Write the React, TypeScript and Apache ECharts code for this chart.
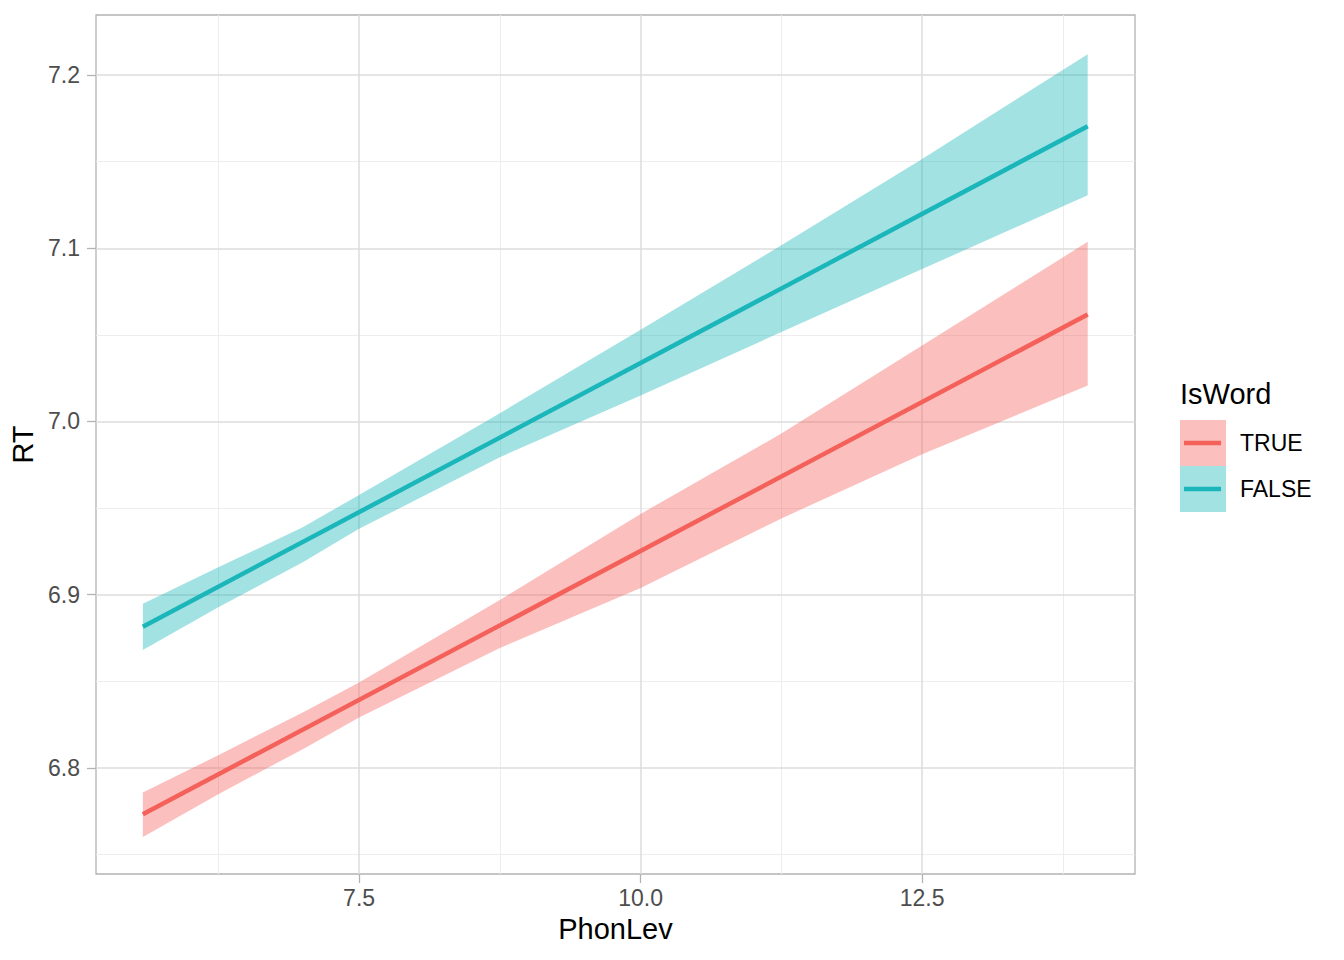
import React, { useEffect, useRef } from "react";
import * as echarts from "echarts";

// ---- data ----
const phonLevEnds = [5.58, 13.97];
const rtTrue = [6.7732, 7.0618];
const rtFalse = [6.8815, 7.1705];

const bandX = [5.58, 6.25, 7.0, 7.5, 8.75, 10.0, 11.25, 12.5, 13.97];
const trueLower = [6.7601, 6.7848, 6.8108, 6.8291, 6.8692, 6.9039, 6.944, 6.9811, 7.0208];
const trueUpper = [6.7857, 6.8073, 6.832, 6.8493, 6.8969, 6.9466, 6.993, 7.0439, 7.1037];
const falseLower = [6.868, 6.8927, 6.9187, 6.938, 6.9794, 7.015, 7.0516, 7.088, 7.1306];
const falseUpper = [6.8948, 6.9158, 6.9389, 6.9576, 7.0048, 7.053, 7.1017, 7.1515, 7.2121];

const xMajor = [7.5, 10, 12.5];
const xMinor = [6.25, 8.75, 11.25, 13.75];
const yMajor = [6.8, 6.9, 7.0, 7.1, 7.2];
const yMinor = [6.75, 6.85, 6.95, 7.05, 7.15];
const xRange = [5.164, 14.39];
const yRange = [6.7387, 7.2347];

const legendTitle = "IsWord";
const groupNames = ["TRUE", "FALSE"];
const groupColors = ["#F4605A", "#1AB6BA"];

const FONT = '"Liberation Sans", Arial, Helvetica, sans-serif';

function rgba(hex: string, a: number) {
  const n = parseInt(hex.slice(1), 16);
  return `rgba(${(n >> 16) & 255},${(n >> 8) & 255},${n & 255},${a})`;
}

export default function App() {
  const ref = useRef<HTMLDivElement>(null);

  useEffect(() => {
    if (!ref.current) return;
    const chart = echarts.init(ref.current, undefined, { renderer: "svg" });

    const groups = [
      { name: groupNames[0], color: groupColors[0], lower: trueLower, upper: trueUpper, line: rtTrue },
      { name: groupNames[1], color: groupColors[1], lower: falseLower, upper: falseUpper, line: rtFalse },
    ];

    const majorStyle = { color: "#DCDCDC", width: 1.5, type: "solid" };
    const minorStyle = { color: "#EDEDED", width: 1, type: "solid" };

    const gridLineData: any[] = [
      ...xMinor.map((v) => ({ xAxis: v, lineStyle: minorStyle })),
      ...yMinor.map((v) => ({ yAxis: v, lineStyle: minorStyle })),
      ...xMajor.map((v) => ({ xAxis: v, lineStyle: majorStyle })),
      ...yMajor.map((v) => ({ yAxis: v, lineStyle: majorStyle })),
    ];

    const series: any[] = [
      {
        type: "line",
        name: "grid",
        data: [],
        z: 1,
        silent: true,
        markLine: {
          silent: true,
          z: 1,
          symbol: ["none", "none"],
          label: { show: false },
          lineStyle: { type: "solid" },
          emphasis: { disabled: true },
          data: gridLineData,
        },
      },
    ];

    groups.forEach((g) => {
      series.push({
        type: "custom",
        name: g.name + " band",
        z: 2,
        silent: true,
        clip: true,
        data: [[bandX[0], g.lower[0]]],
        encode: { x: 0, y: 1 },
        renderItem: (_params: any, api: any) => {
          const pts: number[][] = [];
          for (let i = 0; i < bandX.length; i++) pts.push(api.coord([bandX[i], g.upper[i]]));
          for (let i = bandX.length - 1; i >= 0; i--) pts.push(api.coord([bandX[i], g.lower[i]]));
          return {
            type: "polygon",
            shape: { points: pts },
            style: { fill: rgba(g.color, 0.4), stroke: "none" },
          };
        },
      });
    });

    groups.forEach((g) => {
      series.push({
        type: "line",
        name: g.name,
        z: 3,
        silent: true,
        symbol: "none",
        showSymbol: false,
        data: phonLevEnds.map((x, i) => [x, g.line[i]]),
        lineStyle: { color: g.color, width: 4.5 },
      });
    });

    const graphic: any[] = [
      {
        type: "text",
        x: 1180,
        y: 394,
        style: {
          text: legendTitle,
          fill: "#000",
          fontSize: 29,
          fontFamily: FONT,
          verticalAlign: "middle",
          align: "left",
        },
      },
    ];
    groups.forEach((g, i) => {
      const top = 420 + 46 * i;
      graphic.push(
        {
          type: "rect",
          shape: { x: 1180, y: top, width: 46, height: 46 },
          style: { fill: rgba(g.color, 0.4) },
        },
        {
          type: "line",
          shape: { x1: 1184, y1: top + 23, x2: 1221, y2: top + 23 },
          style: { stroke: g.color, lineWidth: 4.5 },
        },
        {
          type: "text",
          x: 1240,
          y: top + 23,
          style: {
            text: g.name,
            fill: "#000",
            fontSize: 23,
            fontFamily: FONT,
            verticalAlign: "middle",
            align: "left",
          },
        }
      );
    });

    chart.setOption({
      animation: false,
      backgroundColor: "#FFFFFF",
      textStyle: { fontFamily: FONT },
      grid: {
        left: 96,
        right: 209,
        top: 15,
        bottom: 86,
        show: true,
        borderColor: "#B3B3B3",
        borderWidth: 1.3,
        backgroundColor: "transparent",
        containLabel: false,
      },
      xAxis: {
        type: "value",
        min: xRange[0],
        max: xRange[1],
        name: "PhonLev",
        nameLocation: "middle",
        nameGap: 40,
        nameTextStyle: { fontSize: 29, color: "#000", fontFamily: FONT },
        axisLine: { show: false },
        axisTick: {
          show: true,
          length: 9,
          customValues: xMajor,
          lineStyle: { color: "#B3B3B3", width: 1.3 },
        },
        axisLabel: {
          customValues: xMajor,
          margin: 12,
          fontSize: 23,
          color: "#4D4D4D",
          fontFamily: FONT,
          formatter: (v: number) => v.toFixed(1),
        },
        splitLine: { show: false },
      },
      yAxis: {
        type: "value",
        min: yRange[0],
        max: yRange[1],
        name: "RT",
        nameLocation: "middle",
        nameGap: 55,
        nameTextStyle: { fontSize: 29, color: "#000", fontFamily: FONT },
        axisLine: { show: false },
        axisTick: {
          show: true,
          length: 9,
          customValues: yMajor,
          lineStyle: { color: "#B3B3B3", width: 1.3 },
        },
        axisLabel: {
          customValues: yMajor,
          margin: 16,
          fontSize: 23,
          color: "#4D4D4D",
          fontFamily: FONT,
          formatter: (v: number) => v.toFixed(1),
        },
        splitLine: { show: false },
      },
      series,
      graphic,
    });

    return () => chart.dispose();
  }, []);

  return (
    <div
      ref={ref}
      style={{ position: "absolute", left: 0, top: 0, width: 1344, height: 960 }}
    />
  );
}
